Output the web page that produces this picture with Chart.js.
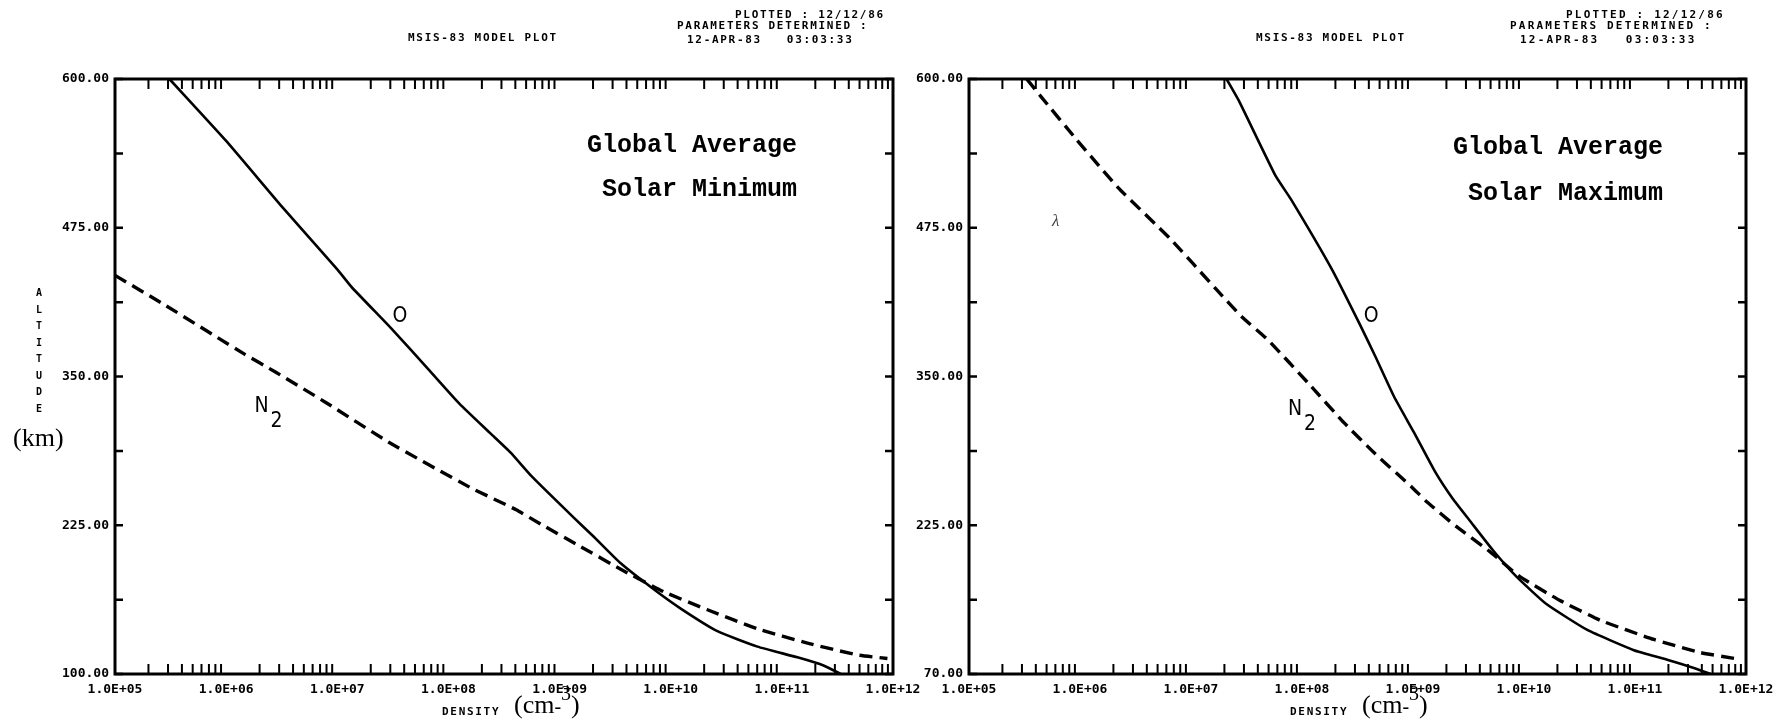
<!DOCTYPE html>
<html><head><meta charset="utf-8">
<script src="https://cdn.jsdelivr.net/npm/chart.js@4.4.1/dist/chart.umd.min.js"></script>
<style>
html,body{margin:0;padding:0;background:#fff;}
#wrap{position:relative;width:1792px;height:728px;overflow:hidden;background:#fff;}
canvas{position:absolute;left:0;top:0;}
.t{position:absolute;white-space:pre;color:#000;line-height:1;}
.hdr{font-family:"DejaVu Sans Mono",monospace;font-weight:bold;font-size:11px;letter-spacing:1.7px;line-height:13px;}
.hdr2{letter-spacing:2.2px;}
.note{font-family:"Liberation Mono",monospace;font-weight:bold;font-size:25px;line-height:25px;text-align:right;}
.serif{font-family:"Liberation Serif",serif;font-size:26px;line-height:30px;}
.alt{font-family:"DejaVu Sans Mono",monospace;font-weight:bold;font-size:10px;line-height:16.5px;text-align:center;width:12px;white-space:normal;}
</style></head>
<body><div id="wrap">
<canvas id="c1" width="1792" height="728"></canvas>
<canvas id="c2" width="1792" height="728"></canvas>

<div class="t hdr" style="left:408px;top:31px;">MSIS-83 MODEL PLOT</div>
<div class="t hdr" style="left:735px;top:8px;">PLOTTED : 12/12/86</div>
<div class="t hdr" style="left:677px;top:19px;">PARAMETERS DETERMINED :</div>
<div class="t hdr" style="left:687px;top:33px;">12-APR-83   03:03:33</div>

<div class="t hdr" style="left:1256px;top:31px;">MSIS-83 MODEL PLOT</div>
<div class="t hdr hdr2" style="left:1566px;top:8px;">PLOTTED : 12/12/86</div>
<div class="t hdr hdr2" style="left:1510px;top:19px;">PARAMETERS DETERMINED :</div>
<div class="t hdr hdr2" style="left:1520px;top:33px;">12-APR-83   03:03:33</div>

<div class="t note" style="right:995px;top:133px;">Global Average</div>
<div class="t note" style="right:995px;top:177px;">Solar Minimum</div>
<div class="t note" style="right:129px;top:135px;">Global Average</div>
<div class="t note" style="right:129px;top:181px;">Solar Maximum</div>

<div class="t hdr" style="left:442px;top:705px;">DENSITY</div>
<div class="t serif" style="left:514px;top:690px;">(cm<span style="font-size:20px;">-</span><span style="position:relative;top:-13px;font-size:20px;">3</span>)</div>
<div class="t hdr" style="left:1290px;top:705px;">DENSITY</div>
<div class="t serif" style="left:1362px;top:690px;">(cm<span style="font-size:20px;">-</span><span style="position:relative;top:-13px;font-size:20px;">3</span>)</div>

<div class="t alt" style="left:33px;top:285px;">A L T I T U D E</div>
<div class="t serif" style="left:13px;top:423px;">(km)</div>

<div class="t" style="left:1052px;top:212px;font-family:'Liberation Serif',serif;font-style:italic;font-size:17px;color:#444;">λ</div>
</div>
<script>
// ---- axis ticks / labels ----
const densityDecades = [1e5, 1e6, 1e7, 1e8, 1e9, 1e10, 1e11, 1e12];
const densityLabels = ["1.0E+05","1.0E+06","1.0E+07","1.0E+08","1.0E+09","1.0E+10","1.0E+11","1.0E+12"];
const logMultipliers = [2,3,4,5,6,7,8,9];
const altitudeLabelValues = [100, 225, 350, 475, 600];
const altitudeTickValues = [100, 162.5, 225, 287.5, 350, 412.5, 475, 537.5, 600];
const altitudeLabelsMin = ["100.00","225.00","350.00","475.00","600.00"];
const altitudeLabelsMax = ["70.00","225.00","350.00","475.00","600.00"];

// ---- Solar minimum ----
const oMinDensity = [3.09e5, 1.0e6, 3.16e6, 1.0e7, 1.35e7, 3.16e7, 6.61e7, 1.26e8, 2.40e8, 3.63e8, 5.62e8, 1.32e9, 2.0e9, 3.55e9, 7.08e9, 1.23e10, 2.63e10, 6.03e10, 1.38e11, 2.40e11, 3.39e11];
const oMinAltitude = [600, 548, 493, 440, 425, 389, 356, 327, 302, 286, 266, 232, 216, 193, 171, 155, 136, 123, 114, 107, 100];
const n2MinDensity = [1.0e5, 2.82e5, 1.45e6, 2.75e6, 7.94e6, 2.88e7, 1.55e8, 4.07e8, 6.76e8, 1.55e9, 3.55e9, 8.71e9, 2.14e10, 6.03e10, 1.70e11, 4.79e11, 8.91e11];
const n2MinAltitude = [435, 410, 369, 354, 328, 295, 257, 238, 226, 207, 188, 169, 154, 138, 126, 116, 113];

// ---- Solar maximum ----
const oMaxDensity = [2.09e7, 2.69e7, 5.75e7, 7.94e7, 1.86e8, 3.31e8, 4.57e8, 6.76e8, 1.02e9, 1.58e9, 2.29e9, 3.24e9, 5.25e9, 8.51e9, 1.58e10, 3.72e10, 9.77e10, 1.95e11, 3.39e11, 4.79e11];
const oMaxAltitude = [600, 582, 519, 499, 440, 394, 367, 333, 303, 270, 247, 229, 204, 182, 159, 137, 120, 112, 105, 100];
const n2MaxDensity = [3.31e5, 4.47e5, 9.33e5, 2.19e6, 6.46e6, 1.70e7, 2.88e7, 4.90e7, 1.15e8, 2.40e8, 4.57e8, 9.77e8, 1.32e9, 2.45e9, 4.90e9, 9.12e9, 2.09e10, 4.90e10, 1.48e11, 3.89e11, 7.94e11];
const n2MaxAltitude = [600, 585, 549, 509, 466, 423, 400, 381, 344, 311, 285, 257, 245, 224, 203, 182, 162, 145, 129, 118, 113];

const zip = (xs, ys) => xs.map((x, i) => ({x, y: ys[i]}));

const framePlugin = {
  id: 'frameTicks',
  afterDatasetsDraw(chart, args, opts) {
    const {ctx, chartArea: a, scales: {x, y}} = chart;
    ctx.save();
    ctx.strokeStyle = '#000';
    ctx.lineCap = 'butt';
    // x minor ticks, inward on bottom and top
    ctx.lineWidth = 2;
    ctx.beginPath();
    for (const d of densityDecades.slice(0, -1)) {
      for (const m of logMultipliers) {
        const px = x.getPixelForValue(d * m);
        ctx.moveTo(px, a.bottom); ctx.lineTo(px, a.bottom - 10);
        ctx.moveTo(px, a.top); ctx.lineTo(px, a.top + 10);
      }
    }
    ctx.stroke();
    // y ticks inward on left and right
    ctx.lineWidth = 2.5;
    ctx.beginPath();
    for (const v of altitudeTickValues) {
      const py = y.getPixelForValue(v);
      ctx.moveTo(a.left, py); ctx.lineTo(a.left + 8, py);
      ctx.moveTo(a.right, py); ctx.lineTo(a.right - 8, py);
    }
    ctx.stroke();
    // frame
    ctx.lineWidth = 3;
    ctx.strokeRect(a.left, a.top, a.right - a.left, a.bottom - a.top);
    // curve labels
    ctx.fillStyle = '#000';
    ctx.font = '21px "DejaVu Sans Condensed", "Liberation Sans", sans-serif';
    ctx.textAlign = 'center';
    ctx.textBaseline = 'middle';
    for (const it of (opts.items || [])) {
      const px = x.getPixelForValue(it.x), py = y.getPixelForValue(it.y);
      ctx.fillText(it.text, px, py);
      if (it.sub) ctx.fillText(it.sub, px + 15, py + 15);
    }
    ctx.restore();
  }
};

function makeChart(id, cfg) {
  return new Chart(document.getElementById(id), {
    type: 'line',
    data: {
      datasets: [
        {label: 'O', data: zip(cfg.oX, cfg.oY), borderColor: '#000', borderWidth: 2.6,
         pointRadius: 0, tension: 0.15, fill: false},
        {label: 'N2', data: zip(cfg.nX, cfg.nY), borderColor: '#000', borderWidth: 3.4,
         borderDash: [13, 7], pointRadius: 0, tension: 0.15, fill: false}
      ]
    },
    options: {
      responsive: false, animation: false, devicePixelRatio: 1,
      events: [],
      layout: {padding: {left: cfg.padL, right: cfg.padR, top: 79, bottom: 0}},
      plugins: {
        legend: {display: false}, tooltip: {enabled: false},
        frameTicks: {items: cfg.items}
      },
      scales: {
        x: {
          type: 'logarithmic', position: 'bottom', min: 1e5, max: 1e12,
          afterBuildTicks: s => { s.ticks = densityDecades.map(v => ({value: v})); },
          afterFit: s => { s.height = 54; },
          grid: {display: false, drawTicks: false}, border: {display: false},
          ticks: {autoSkip: false, maxRotation: 0, minRotation: 0, padding: 8, color: '#000',
                  font: {family: 'DejaVu Sans Mono', size: 13, weight: 'bold'},
                  callback: (v, i) => densityLabels[i]}
        },
        y: {
          type: 'linear', position: 'left', min: 100, max: 600,
          afterBuildTicks: s => { s.ticks = altitudeLabelValues.map(v => ({value: v})); },
          afterFit: s => { s.width = cfg.yW; },
          grid: {display: false, drawTicks: false}, border: {display: false},
          ticks: {autoSkip: false, padding: 6, color: '#000',
                  font: {family: 'DejaVu Sans Mono', size: 13, weight: 'bold'},
                  callback: (v, i) => cfg.yLabels[i]}
        }
      }
    },
    plugins: [framePlugin]
  });
}

makeChart('c1', {
  oX: oMinDensity, oY: oMinAltitude, nX: n2MinDensity, nY: n2MinAltitude,
  padL: 0, padR: 899, yW: 115, yLabels: altitudeLabelsMin,
  items: [{text: 'O', x: 3.66e7, y: 400}, {text: 'N', sub: '2', x: 2.08e6, y: 325}]
});
makeChart('c2', {
  oX: oMaxDensity, oY: oMaxAltitude, nX: n2MaxDensity, nY: n2MaxAltitude,
  padL: 900, padR: 46, yW: 69, yLabels: altitudeLabelsMax,
  items: [{text: 'O', x: 4.19e8, y: 400}, {text: 'N', sub: '2', x: 8.65e7, y: 322}]
});
</script>
</body></html>
